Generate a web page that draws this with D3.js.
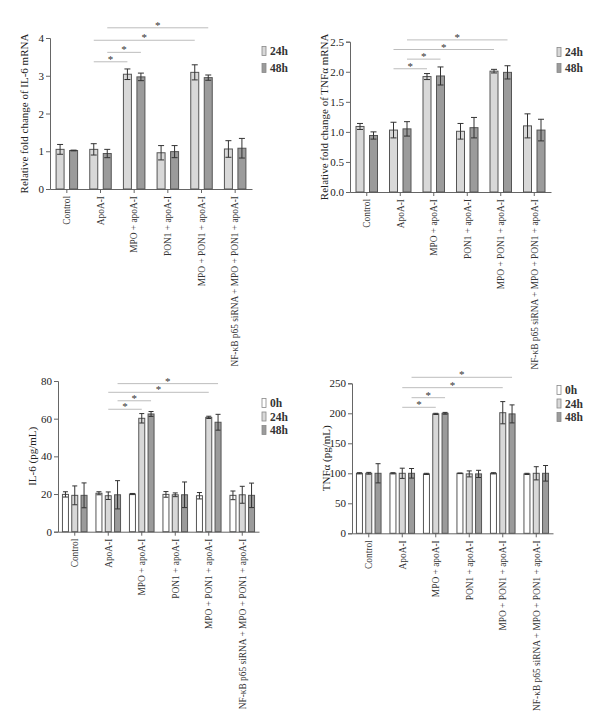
<!DOCTYPE html>
<html>
<head>
<meta charset="utf-8">
<script src="https://cdn.jsdelivr.net/npm/d3@7"></script>
<style>
  body { margin: 0; background: #fff; }
  svg text { font-family: "Liberation Serif", "DejaVu Serif", serif; fill: #222; }
  .star { opacity: 0.99; }
</style>
</head>
<body>
<script>
// categories shared by all four panels
var categories = ["Control", "ApoA-I", "MPO + apoA-I", "PON1 + apoA-I",
  "MPO + PON1 + apoA-I", "NF-κB p65 siRNA + MPO + PON1 + apoA-I"];

// IL-6 mRNA (fold change)
var il6Mrna24 = [1.05, 1.05, 3.04, 0.96, 3.09, 1.06];
var il6Mrna24Err = [0.13, 0.15, 0.14, 0.19, 0.20, 0.22];
var il6Mrna48 = [1.02, 0.94, 2.97, 0.99, 2.95, 1.08];
var il6Mrna48Err = [0.01, 0.11, 0.10, 0.16, 0.07, 0.26];

// TNFa mRNA (fold change)
var tnfMrna24 = [1.09, 1.03, 1.92, 1.01, 2.01, 1.10];
var tnfMrna24Err = [0.05, 0.13, 0.05, 0.13, 0.03, 0.20];
var tnfMrna48 = [0.94, 1.05, 1.93, 1.07, 1.99, 1.03];
var tnfMrna48Err = [0.06, 0.12, 0.15, 0.17, 0.11, 0.18];

// IL-6 protein (pg/mL)
var il6Prot0 = [19.8, 20.4, 20.0, 19.8, 19.1, 19.3];
var il6Prot0Err = [1.4, 0.8, 0.3, 1.5, 1.7, 2.3];
var il6Prot24 = [19.3, 19.1, 60.2, 19.6, 60.7, 19.6];
var il6Prot24Err = [5.0, 2.0, 2.5, 1.0, 0.6, 4.5];
var il6Prot48 = [19.3, 19.6, 62.5, 19.6, 58.1, 19.3];
var il6Prot48Err = [6.6, 7.5, 1.3, 6.8, 4.2, 6.5];

// TNFa protein (pg/mL)
var tnfProt0 = [100, 100, 99, 100, 100, 99];
var tnfProt0Err = [1, 1, 1, 0.5, 1, 1];
var tnfProt24 = [100, 100, 199, 99, 201, 100];
var tnfProt24Err = [1.5, 8.5, 1, 5, 18.5, 11];
var tnfProt48 = [100, 100, 200, 99, 199, 100];
var tnfProt48Err = [16, 8, 1.5, 6, 15, 13];

// significance brackets: [category from, series from, category to, series to, level]
var il6MrnaSig = [[1, 0, 2, 0, 3.37], [1, 1, 2, 1, 3.62], [1, 0, 4, 0, 3.94], [1, 1, 4, 1, 4.27]];
var tnfMrnaSig = [[1, 0, 2, 0, 2.05], [1, 1, 2, 1, 2.21], [1, 0, 4, 0, 2.37], [1, 1, 4, 1, 2.53]];
var il6ProtSig = [[1, 1, 2, 1, 65], [1, 2, 2, 2, 69.5], [1, 1, 4, 1, 74], [1, 2, 4, 2, 78.6]];
var tnfProtSig = [[1, 1, 2, 1, 210], [1, 2, 2, 2, 226], [1, 1, 4, 1, 242.7], [1, 2, 4, 2, 260]];

var fills = { "0h": "#ffffff", "24h": "#d8d8d8", "48h": "#9b9b9b" };

var svg = d3.select("body").append("svg")
  .attr("width", 600)
  .attr("height", 723);

function drawPanel(p) {
  var g = svg.append("g");

  var x = d3.scaleBand().domain(categories).range([p.left, p.right]).padding(0);
  var y = d3.scaleLinear().domain([0, p.max]).range([p.bottom, p.top]);

  var n = p.series.length;
  function barX(ci, si) {
    return x(categories[ci]) + x.bandwidth() / 2 + (si - (n - 1) / 2) * p.barStep;
  }

  // y axis
  var yAxis = g.append("g")
    .attr("transform", "translate(" + p.left + ",0)")
    .call(d3.axisLeft(y).ticks(p.ticks).tickSize(4).tickFormat(p.fmt));
  yAxis.selectAll("text").style("font-size", "11px").attr("x", -6);

  // x axis
  var xAxis = g.append("g")
    .attr("transform", "translate(0," + p.bottom + ")")
    .call(d3.axisBottom(x).tickSize(4).tickSizeOuter(0));
  xAxis.selectAll("text")
    .style("font-size", "9.4px")
    .style("fill", "#333")
    .style("text-anchor", "end")
    .attr("transform", "rotate(-90)")
    .attr("x", -7)
    .attr("y", 0)
    .attr("dy", "0.35em");

  svg.selectAll(".domain, .tick line").attr("stroke", "#666");

  // y label
  g.append("text")
    .attr("transform", "translate(" + (p.left - 26) + "," + ((p.top + p.bottom) / 2) + ") rotate(-90)")
    .attr("dy", "0.35em")
    .style("text-anchor", "middle")
    .style("font-size", "11px")
    .text(p.label);

  // bars + error bars
  p.series.forEach(function (s, si) {
    var rows = s.values.map(function (v, ci) { return { ci: ci, v: v, e: s.err[ci] }; });
    g.selectAll(".bar" + si)
      .data(rows)
      .enter()
      .append("rect")
      .attr("x", function (d) { return barX(d.ci, si) - p.barWidth / 2; })
      .attr("y", function (d) { return y(d.v); })
      .attr("width", p.barWidth)
      .attr("height", function (d) { return y(0) - y(d.v); })
      .attr("fill", fills[s.name])
      .attr("stroke", "#555")
      .attr("stroke-width", 1);

    var eb = g.selectAll(".err" + si)
      .data(rows)
      .enter()
      .append("g")
      .attr("stroke", "#333")
      .attr("stroke-width", 1);
    eb.append("line")
      .attr("x1", function (d) { return barX(d.ci, si); })
      .attr("x2", function (d) { return barX(d.ci, si); })
      .attr("y1", function (d) { return y(d.v - d.e); })
      .attr("y2", function (d) { return y(d.v + d.e); });
    [1, -1].forEach(function (sign) {
      eb.append("line")
        .attr("x1", function (d) { return barX(d.ci, si) - p.cap; })
        .attr("x2", function (d) { return barX(d.ci, si) + p.cap; })
        .attr("y1", function (d) { return y(d.v + sign * d.e); })
        .attr("y2", function (d) { return y(d.v + sign * d.e); });
    });
  });

  // significance brackets
  p.sig.forEach(function (s) {
    var x1 = barX(s[0], s[1]), x2 = barX(s[2], s[3]), yy = y(s[4]);
    g.append("line")
      .attr("x1", x1).attr("x2", x2)
      .attr("y1", yy).attr("y2", yy)
      .attr("stroke", "#bdbdbd")
      .attr("stroke-width", 1);
    g.append("text")
      .attr("class", "star")
      .attr("x", (x1 + x2) / 2)
      .attr("y", yy + 1)
      .style("text-anchor", "middle")
      .style("font-size", "11px")
      .style("fill", "#333")
      .text("*");
  });

  // legend
  p.series.forEach(function (s, si) {
    var ly = p.legendY + si * p.legendStep;
    g.append("rect")
      .attr("x", p.legendX)
      .attr("y", ly - 4.5)
      .attr("width", 4)
      .attr("height", 9)
      .attr("fill", fills[s.name])
      .attr("stroke", "#888")
      .attr("stroke-width", 0.8);
    g.append("text")
      .attr("x", p.legendX + 8)
      .attr("y", ly)
      .attr("dy", "0.35em")
      .style("font-size", "11.5px")
      .style("font-weight", "bold")
      .style("fill", "#333")
      .text(s.name);
  });
}

drawPanel({
  left: 50, right: 252, top: 38, bottom: 189, max: 4, ticks: 4, fmt: d3.format("d"),
  label: "Relative fold change of IL-6 mRNA",
  barWidth: 8, barStep: 13.5, cap: 3,
  series: [
    { name: "24h", values: il6Mrna24, err: il6Mrna24Err },
    { name: "48h", values: il6Mrna48, err: il6Mrna48Err }
  ],
  sig: il6MrnaSig,
  legendX: 262, legendY: 51, legendStep: 17
});

drawPanel({
  left: 350, right: 551, top: 41.7, bottom: 192, max: 2.5, ticks: 5, fmt: d3.format(".1f"),
  label: "Relative fold change of TNFα mRNA",
  barWidth: 8, barStep: 13.5, cap: 3,
  series: [
    { name: "24h", values: tnfMrna24, err: tnfMrna24Err },
    { name: "48h", values: tnfMrna48, err: tnfMrna48Err }
  ],
  sig: tnfMrnaSig,
  legendX: 557, legendY: 52, legendStep: 16
});

drawPanel({
  left: 58, right: 259, top: 381, bottom: 531.7, max: 80, ticks: 4, fmt: d3.format("d"),
  label: "IL-6 (pg/mL)",
  barWidth: 6, barStep: 9.3, cap: 2.5,
  series: [
    { name: "0h", values: il6Prot0, err: il6Prot0Err },
    { name: "24h", values: il6Prot24, err: il6Prot24Err },
    { name: "48h", values: il6Prot48, err: il6Prot48Err }
  ],
  sig: il6ProtSig,
  legendX: 262, legendY: 403, legendStep: 13.5
});

drawPanel({
  left: 352, right: 553, top: 383.3, bottom: 533.3, max: 250, ticks: 5, fmt: d3.format("d"),
  label: "TNFα (pg/mL)",
  barWidth: 6, barStep: 9.3, cap: 2.5,
  series: [
    { name: "0h", values: tnfProt0, err: tnfProt0Err },
    { name: "24h", values: tnfProt24, err: tnfProt24Err },
    { name: "48h", values: tnfProt48, err: tnfProt48Err }
  ],
  sig: tnfProtSig,
  legendX: 557, legendY: 390, legendStep: 13.5
});
</script>
</body>
</html>
